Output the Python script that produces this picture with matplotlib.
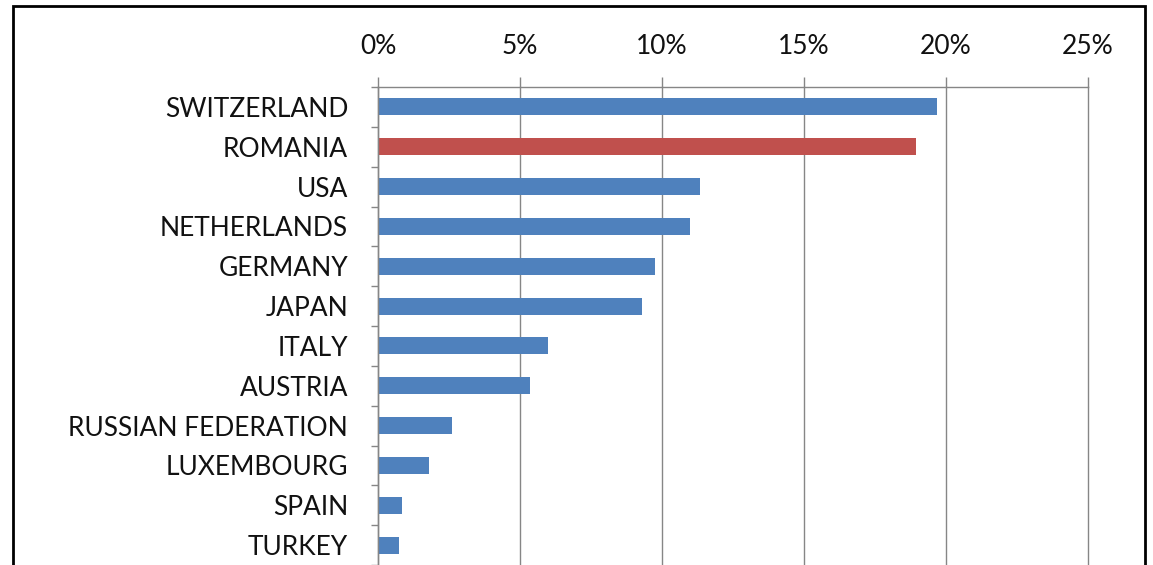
import matplotlib
matplotlib.use("Agg")
import matplotlib.pyplot as plt
from matplotlib.patches import Rectangle
from matplotlib.ticker import FuncFormatter, FixedLocator

countries = ["SWITZERLAND", "ROMANIA", "USA", "NETHERLANDS", "GERMANY", "JAPAN",
             "ITALY", "AUSTRIA", "RUSSIAN FEDERATION", "LUXEMBOURG", "SPAIN", "TURKEY"]
shares = [19.7, 18.95, 11.35, 11.0, 9.75, 9.3, 6.0, 5.35, 2.6, 1.8, 0.85, 0.75]
highlight = "ROMANIA"
x_ticks = [0, 5, 10, 15, 20, 25]

blue = "#4F81BD"
red = "#C0504D"
grid_c = "#868686"

plt.rcParams['font.family'] = ['Lato', 'DejaVu Sans']

W, H = 1153, 565
fig = plt.figure(figsize=(W / 100, H / 100), dpi=100)
ax = fig.add_axes([378 / W, 0, (1088 - 378) / W, (565 - 87) / H])

colors = [red if c == highlight else blue for c in countries]
y = list(range(len(countries)))
ax.barh(y, shares, height=0.43, color=colors, zorder=3)

ax.set_ylim(len(countries) - 0.5, -0.5)
ax.set_xlim(0, 25)
ax.set_yticks(y)
ax.set_yticklabels(countries, fontsize=19, color="#111111")
ax.yaxis.set_minor_locator(FixedLocator([i - 0.5 for i in range(len(countries) + 1)]))
ax.tick_params(axis='y', which='major', length=0, pad=21.5)
ax.tick_params(axis='y', which='minor', length=5, color=grid_c, width=1)

ax.xaxis.tick_top()
ax.set_xticks(x_ticks)
ax.xaxis.set_major_formatter(FuncFormatter(lambda v, p: f"{v:.0f}%"))
ax.tick_params(axis='x', which='major', length=7, color=grid_c, width=1,
               labelsize=19, labelcolor="#111111", pad=13)
ax.grid(axis='x', color=grid_c, linewidth=1, zorder=1)
for ln in ax.get_xgridlines():
    ln.set_clip_on(False)

for s in ['right', 'bottom']:
    ax.spines[s].set_visible(False)
for s in ['top', 'left']:
    ax.spines[s].set_color(grid_c)
    ax.spines[s].set_linewidth(1)
    ax.spines[s].set_zorder(4)

frame = Rectangle((13 / W, -0.1), (1145 - 13) / W, (565 - 6) / H + 0.1,
                  transform=fig.transFigure, fill=False, edgecolor="black",
                  linewidth=2, zorder=10)
fig.patches.append(frame)

fig.savefig("out.png", dpi=100)
